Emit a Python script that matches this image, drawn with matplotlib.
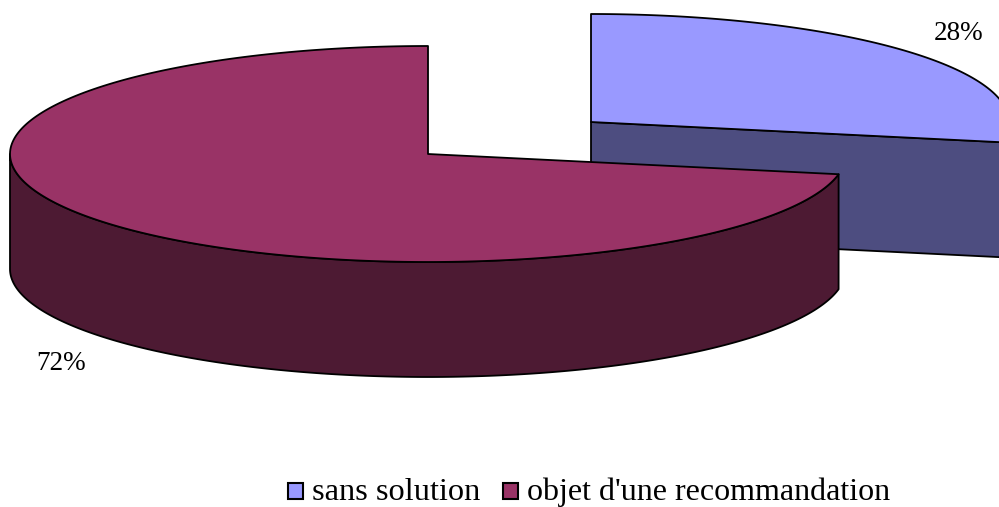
import numpy as np
import matplotlib
matplotlib.use("Agg")
import matplotlib.pyplot as plt
from matplotlib.patches import Polygon, Rectangle

categories = ["sans solution", "objet d'une recommandation"]
values = [28, 72]
labels = ["28%", "72%"]
top_colors = ["#9999ff", "#993366"]
side_colors = ["#4d4d80", "#4d1a33"]

fig = plt.figure(figsize=(9.99, 5.07), dpi=100)
ax = fig.add_axes([0, 0, 1, 1])
ax.set_xlim(0, 999)
ax.set_ylim(507, 0)
ax.axis("off")

RX, RY, DEPTH = 418, 108, 115
FONT = "Liberation Serif"


def rim(cx, cy, a0, a1, n=240):
    t = np.radians(np.linspace(a0, a1, n))
    return np.column_stack([cx + RX * np.sin(t), cy - RY * np.cos(t)])


def poly(pts, color, z):
    ax.add_patch(Polygon(pts, closed=True, facecolor=color, edgecolor="black",
                         linewidth=1.3, joinstyle="round", zorder=z))


a = values[0] / sum(values) * 360

# small slice, pulled out to the upper right (clockwise from 12 o'clock)
cx, cy = 591, 122
p_end = rim(cx, cy, a, a, 1)[0]
poly([(cx, cy), p_end, p_end + (0, DEPTH), (cx, cy + DEPTH)], side_colors[0], 1)
poly(np.vstack([[(cx, cy)], rim(cx, cy, 0, a)]), top_colors[0], 2)

# large slice
cx, cy = 428, 154
arc = rim(cx, cy, a, 270)
poly(np.vstack([arc, arc[::-1] + (0, DEPTH)]), side_colors[1], 3)
poly(np.vstack([[(cx, cy)], rim(cx, cy, a, 360)]), top_colors[1], 4)

# data labels
ax.text(958.5, 34, labels[0], family=FONT, fontsize=19.5, ha="center", va="center", color="black")
ax.text(61.5, 364, labels[1], family=FONT, fontsize=19.5, ha="center", va="center", color="black")

# legend
ax.add_patch(Rectangle((288, 483), 15, 16, facecolor=top_colors[0], edgecolor="black", linewidth=1.5))
ax.text(312, 492.5, categories[0], family=FONT, fontsize=23.3, ha="left", va="center", color="black")
ax.add_patch(Rectangle((503, 483), 15, 16, facecolor=top_colors[1], edgecolor="black", linewidth=1.5))
ax.text(527, 492.5, categories[1], family=FONT, fontsize=23, ha="left", va="center", color="black")

fig.savefig("out.png", dpi=100)
